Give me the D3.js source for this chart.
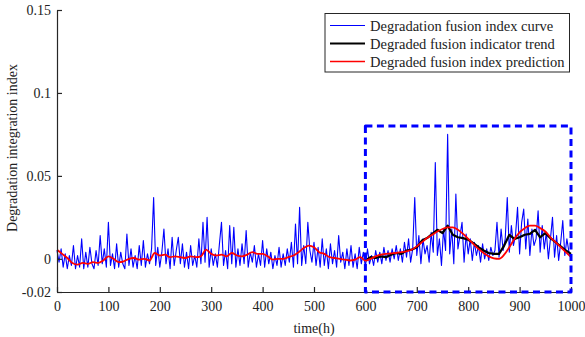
<!DOCTYPE html>
<html>
<head>
<meta charset="utf-8">
<script src="https://cdn.jsdelivr.net/npm/d3@7"></script>
<style>
  html, body { margin: 0; padding: 0; background: #fff; }
  svg { display: block; }
  text { font-family: "Liberation Serif", "Times New Roman", serif; fill: #222; }
</style>
</head>
<body>
<svg id="chart" width="585" height="337"></svg>
<script>
// Degradation fusion index, sampled every 4 h from 0 to 1000 h
const curveStep = 4;
const curveValues = [
  0.005, -0.002, 0.006, -0.005, 0.003, -0.006, 0.002, -0.004, 0.008, -0.006,
  0.002, -0.005, 0.012, -0.006, 0.004, -0.005, 0.007, -0.003, -0.006, 0.005,
  -0.004, 0.014, -0.003, 0.006, -0.005, 0.022, -0.004, 0.003, -0.006, 0.009,
  -0.005, 0.004, -0.003, -0.006, 0.015, -0.004, 0.006, -0.005, 0.002, -0.006,
  0.008, -0.004, 0.011, -0.005, 0.003, -0.003, 0.006, 0.037, -0.004, 0.007,
  -0.005, 0.004, 0.018, -0.003, 0.006, -0.006, 0.013, -0.004, 0.005, 0.013,
  -0.003, 0.009, -0.005, 0.004, -0.006, 0.008, -0.004, 0.002, -0.005, 0.012,
  -0.003, 0.022, -0.002, 0.025, -0.005, 0.006, -0.004, 0.003, -0.005, 0.009,
  0.022, -0.004, 0.005, -0.006, 0.020, -0.003, 0.019, -0.005, 0.006, -0.004,
  0.009, -0.003, 0.017, -0.005, 0.004, -0.002, 0.008, -0.005, 0.003, -0.004,
  0.011, -0.005, 0.006, -0.003, 0.004, -0.006, 0.002, -0.004, 0.007, -0.005,
  0.003, -0.004, 0.006, -0.002, 0.010, -0.005, 0.021, -0.003, 0.031, -0.004,
  0.008, -0.003, 0.022, 0.005, -0.002, 0.010, -0.004, 0.007, -0.005, 0.012,
  -0.004, 0.006, -0.006, 0.009, -0.003, 0.005, -0.005, 0.014, -0.002, 0.004,
  -0.006, 0.006, -0.004, 0.008, -0.005, 0.003, -0.006, 0.007, -0.003, 0.004,
  -0.005, 0.006, -0.003, 0.002, -0.004, 0.005, -0.002, 0.004, -0.003, 0.007,
  -0.001, 0.005, -0.002, 0.006, 0.000, 0.008, -0.001, 0.006, -0.002, 0.010,
  0.001, 0.012, -0.002, 0.006, 0.037, 0.002, 0.014, -0.003, 0.012, 0.003,
  0.008, -0.002, 0.016, 0.004, 0.058, 0.002, 0.012, -0.004, 0.018, 0.005,
  0.075, 0.003, 0.018, -0.003, 0.039, 0.006, 0.014, 0.022, -0.002, 0.015,
  0.003, 0.012, -0.001, 0.010, 0.002, 0.008, -0.002, 0.009, 0.000, 0.006,
  -0.001, 0.007, 0.002, 0.005, 0.022, 0.001, 0.018, 0.005, 0.012, 0.037,
  0.004, 0.020, 0.008, 0.014, 0.031, 0.003, 0.022, 0.030, 0.006, 0.024,
  0.002, 0.018, 0.008, 0.012, 0.029, 0.004, 0.020, 0.006, 0.016, 0.000,
  0.012, 0.025, 0.001, 0.014, -0.001, 0.010, 0.023, 0.002, 0.012, 0.004,
  0.000
];

// Indicator trend over the monitored window, every 10 h from 600 to 1000 h
const trendStart = 600;
const trendStep = 10;
const trendValues = [
  -0.001, 0.001, 0.0005, 0.0015, 0.001, 0.0025, 0.0035, 0.003, 0.005, 0.0055,
  0.007, 0.011, 0.0125, 0.015, 0.0175, 0.0155, 0.020, 0.0145, 0.013, 0.0125,
  0.0115, 0.0095, 0.007, 0.005, 0.0035, 0.003, 0.003, 0.008, 0.0145, 0.012,
  0.013, 0.0145, 0.015, 0.0175, 0.013, 0.0155, 0.0125, 0.010, 0.0075, 0.005,
  0.003
];

// Fusion index prediction, every 10 h from 0 to 1000 h
const predictionStep = 10;
const predictionValues = [
  0.0055, 0.003, 0.0005, -0.0025, -0.0035, -0.0025, -0.003, -0.002, -0.0025, -0.001,
  0.0015, 0.000, -0.002, -0.0015, 0.000, 0.0005, -0.0005, 0.000, -0.001, 0.0035,
  0.002, 0.0025, 0.001, 0.0015, 0.001, 0.0005, 0.0015, 0.001, 0.0015, 0.0055,
  0.003, 0.002, 0.0025, 0.0015, 0.0035, 0.002, 0.0015, 0.0025, 0.004, 0.003,
  0.003, 0.0015, -0.0005, 0.000, 0.000, 0.001, 0.002, 0.004, 0.0065, 0.008,
  0.007, 0.004, 0.003, 0.001, 0.0005, 0.000, -0.0005, -0.001, -0.0005, 0.001,
  -0.001, 0.000, 0.0015, 0.0025, 0.003, 0.0033, 0.0035, 0.004, 0.0045, 0.0055,
  0.0075, 0.010, 0.0125, 0.0145, 0.0165, 0.018, 0.019, 0.019, 0.0175, 0.015,
  0.012, 0.009, 0.006, 0.0035, 0.0015, 0.0003, 0.000, 0.0025, 0.007, 0.012,
  0.016, 0.0185, 0.020, 0.020, 0.0185, 0.0165, 0.013, 0.010, 0.007, 0.004,
  0.001
];

const xTicks = [0, 100, 200, 300, 400, 500, 600, 700, 800, 900, 1000];
const yTicks = [-0.02, 0, 0.05, 0.1, 0.15];
const yTickLabels = ["-0.02", "0", "0.05", "0.1", "0.15"];
const highlightRange = { t0: 600, t1: 1000, v0: -0.02, v1: 0.08 };

const legendItems = [
  { label: "Degradation fusion index curve", color: "#0000ff", width: 1 },
  { label: "Degraded fusion indicator trend", color: "#000000", width: 2 },
  { label: "Degraded fusion index prediction", color: "#ff0000", width: 1.5 }
];

const svg = d3.select("#chart");
const x = d3.scaleLinear().domain([0, 1000]).range([57, 571]);
const y = d3.scaleLinear().domain([-0.02, 0.15]).range([292, 10]);

const curveData = curveValues.map((v, i) => [i * curveStep, v]);
const trendData = trendValues.map((v, i) => [trendStart + i * trendStep, v]);
const predictionData = predictionValues.map((v, i) => [i * predictionStep, v]);

const line = d3.line().x(d => x(d[0])).y(d => y(d[1]));

svg.append("path").datum(curveData)
  .attr("d", line).attr("fill", "none")
  .attr("stroke", "#0000ff").attr("stroke-width", 1.1)
  .attr("stroke-linejoin", "round");

svg.append("path").datum(trendData)
  .attr("d", line).attr("fill", "none")
  .attr("stroke", "#000").attr("stroke-width", 2.2)
  .attr("stroke-linejoin", "round");

svg.append("path").datum(predictionData)
  .attr("d", line.curve(d3.curveMonotoneX)).attr("fill", "none")
  .attr("stroke", "#ff0000").attr("stroke-width", 1.8)
  .attr("stroke-linejoin", "round");

// Axes with inward ticks
const yAxis = d3.axisLeft(y).tickValues(yTicks)
  .tickFormat((d, i) => yTickLabels[i])
  .tickSizeInner(-5).tickSizeOuter(0).tickPadding(6);
const xAxis = d3.axisBottom(x).tickValues(xTicks)
  .tickFormat(d3.format("d"))
  .tickSizeInner(-5).tickSizeOuter(0).tickPadding(9);

const gy = svg.append("g").attr("transform", "translate(57,0)").call(yAxis);
const gx = svg.append("g").attr("transform", "translate(0,292)").call(xAxis);
[gx, gy].forEach(g => {
  g.select(".domain").attr("stroke", "#262626").attr("stroke-width", 1.2);
  g.selectAll(".tick line").attr("stroke", "#262626").attr("stroke-width", 1.2);
  g.selectAll(".tick text").attr("font-size", 14)
    .attr("font-family", "'Liberation Serif', 'Times New Roman', serif").attr("fill", "#262626");
});

// Highlighted window
svg.append("rect")
  .attr("x", x(highlightRange.t0)).attr("y", y(highlightRange.v1))
  .attr("width", x(highlightRange.t1) - x(highlightRange.t0))
  .attr("height", y(highlightRange.v0) - y(highlightRange.v1))
  .attr("fill", "none").attr("stroke", "#0000ff").attr("stroke-width", 3)
  .attr("stroke-dasharray", "7,4.5").attr("stroke-linejoin", "round");

// Axis titles
svg.append("text").attr("x", 314).attr("y", 333)
  .attr("text-anchor", "middle").attr("font-size", 14).text("time(h)");
svg.append("text")
  .attr("transform", "translate(17,148) rotate(-90)")
  .attr("text-anchor", "middle").attr("font-size", 14)
  .text("Degradation integration index");

// Legend
const legend = svg.append("g");
legend.append("rect").attr("x", 325).attr("y", 13.5).attr("width", 244.5).attr("height", 58.5)
  .attr("fill", "#fff").attr("stroke", "#262626").attr("stroke-width", 1);
legendItems.forEach((item, i) => {
  const cy = 25.5 + i * 18;
  legend.append("line").attr("x1", 330).attr("x2", 365).attr("y1", cy).attr("y2", cy)
    .attr("stroke", item.color).attr("stroke-width", item.width);
  legend.append("text").attr("x", 370).attr("y", cy + 5)
    .attr("font-size", 14.5).text(item.label);
});
</script>
</body>
</html>
